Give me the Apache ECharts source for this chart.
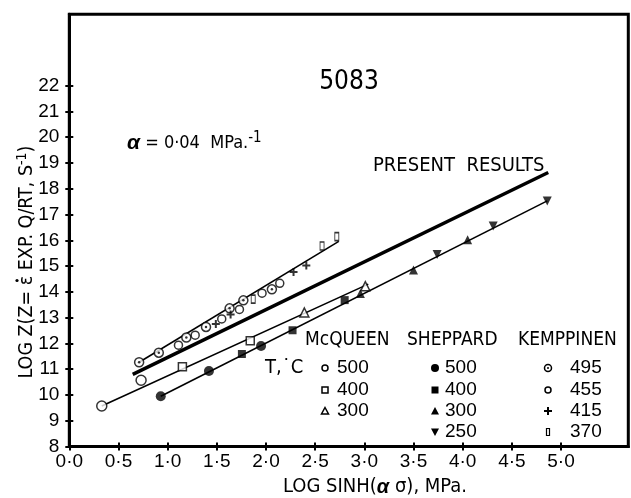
<!DOCTYPE html>
<html>
<head>
<meta charset="utf-8">
<script src="https://cdn.jsdelivr.net/npm/echarts@6/dist/echarts.min.js"></script>
<style>
  html, body { margin: 0; padding: 0; background: #fff; }
  #chart { width: 631px; height: 498px; }
</style>
</head>
<body>
<div id="chart"></div>
<script>
// ---- axis ticks ----
const xTicks = [0, 0.5, 1, 1.5, 2, 2.5, 3, 3.5, 4, 4.5, 5];
const yTicks = [8, 9, 10, 11, 12, 13, 14, 15, 16, 17, 18, 19, 20, 21, 22];

// ---- McQueen (open symbols), [log sinh(ασ), log Z] ----
const mcq500 = [[0.33, 9.57], [0.73, 10.57]];
const mcq400 = [[1.15, 11.09], [1.84, 12.10]];
const mcq300 = [[2.39, 13.20], [3.01, 14.22]];

// ---- Sheppard (filled symbols) ----
const shp500 = [[0.93, 9.95], [1.42, 10.93], [1.95, 11.90]];
const shp400 = [[1.755, 11.59], [2.27, 12.51], [2.80, 13.68]];
const shp300 = [[2.96, 13.94], [3.50, 14.85], [4.05, 16.02]];
const shp250 = [[3.74, 15.45], [4.31, 16.56], [4.86, 17.53]];

// ---- Kemppinen ----
const kem495 = [[0.71, 11.27], [0.91, 11.64], [1.19, 12.23], [1.39, 12.64], [1.63, 13.36], [1.77, 13.67], [2.06, 14.10]];
const kem455 = [[1.11, 11.93], [1.28, 12.32], [1.55, 12.95], [1.73, 13.32], [1.96, 13.95], [2.14, 14.33]];
const kem415 = [[1.49, 12.75], [1.64, 13.12], [2.28, 14.77], [2.41, 15.02]];
const kem370 = [[1.87, 13.72], [2.57, 15.78], [2.72, 16.14]];

// ---- fitted lines ----
const presentLine = [[0.645, 10.80], [4.87, 18.63]];
const mcqLine = [[0.33, 9.57], [3.04, 14.30]];
const shpLine = [[0.93, 9.95], [4.86, 17.53]];
const kemLine = [[0.71, 11.27], [2.74, 15.96]];

const NARROW = "'DejaVu Sans Condensed', 'Liberation Sans', sans-serif";
const DIGIT = "'Liberation Sans', Arial, sans-serif";

const PLUS = 'path://M3,0h2v3h3v2h-3v3h-2v-3h-3v-2h3z';

function lineSeries(data, width) {
  return {
    type: 'line', data: data, symbol: 'none', silent: true, z: 2,
    lineStyle: { color: '#000', width: width }
  };
}
function scatter(data, symbol, size, empty, extra) {
  const s = {
    type: 'scatter', data: data, symbol: symbol, symbolSize: size, z: 5,
    itemStyle: empty
      ? { color: '#fff', borderColor: '#000', borderWidth: 1.5 }
      : { color: '#000', borderWidth: 0 }
  };
  return Object.assign(s, extra || {});
}

// ---- legend block (drawn as graphic elements) ----
function legendMarker(kind, cx, cy) {
  const stroke = { fill: '#fff', stroke: '#000', lineWidth: 1.5 };
  const fill = { fill: '#000' };
  switch (kind) {
    case 'openCircle': return [{ type: 'circle', shape: { cx, cy, r: 3 }, style: stroke }];
    case 'openSquare': return [{ type: 'rect', shape: { x: cx - 3, y: cy - 3, width: 6, height: 6 }, style: stroke }];
    case 'openTri': return [{ type: 'polygon', shape: { points: [[cx, cy - 3.5], [cx + 3.5, cy + 3], [cx - 3.5, cy + 3]] }, style: stroke }];
    case 'fillCircle': return [{ type: 'circle', shape: { cx, cy, r: 4 }, style: fill }];
    case 'fillSquare': return [{ type: 'rect', shape: { x: cx - 3.5, y: cy - 3.5, width: 7, height: 7 }, style: fill }];
    case 'fillTri': return [{ type: 'polygon', shape: { points: [[cx, cy - 4], [cx + 4, cy + 3.5], [cx - 4, cy + 3.5]] }, style: fill }];
    case 'fillTriDown': return [{ type: 'polygon', shape: { points: [[cx, cy + 4], [cx + 4, cy - 3.5], [cx - 4, cy - 3.5]] }, style: fill }];
    case 'dotCircle': return [
      { type: 'circle', shape: { cx, cy, r: 3.5 }, style: stroke },
      { type: 'circle', shape: { cx, cy, r: 1 }, style: fill }];
    case 'smallCircle': return [{ type: 'circle', shape: { cx, cy, r: 3 }, style: stroke }];
    case 'plus': return [
      { type: 'rect', shape: { x: cx - 4, y: cy - 1, width: 8, height: 2 }, style: fill },
      { type: 'rect', shape: { x: cx - 1, y: cy - 4, width: 2, height: 8 }, style: fill }];
    case 'bar': return [{ type: 'rect', shape: { x: cx - 1.5, y: cy - 3.5, width: 3, height: 7 }, style: { fill: '#fff', stroke: '#000', lineWidth: 1.2 } }];
  }
  return [];
}

const legendColumns = [
  { title: 'McQUEEN', titleX: 305, markX: 325, textX: 337,
    rows: [['openCircle', '500'], ['openSquare', '400'], ['openTri', '300']] },
  { title: 'SHEPPARD', titleX: 407, markX: 435, textX: 445,
    rows: [['fillCircle', '500'], ['fillSquare', '400'], ['fillTri', '300'], ['fillTriDown', '250']] },
  { title: 'KEMPPINEN', titleX: 518, markX: 548, textX: 570,
    rows: [['dotCircle', '495'], ['smallCircle', '455'], ['plus', '415'], ['bar', '370']] }
];
const legendRowY = [368, 390, 411, 432];

const graphics = [];
legendColumns.forEach(col => {
  graphics.push({ type: 'text', x: col.titleX, y: 340,
    style: { text: col.title, font: '19px ' + NARROW, fill: '#000', verticalAlign: 'middle' } });
  col.rows.forEach((r, i) => {
    legendMarker(r[0], col.markX, legendRowY[i]).forEach(g => graphics.push(g));
    graphics.push({ type: 'text', x: col.textX, y: legendRowY[i],
      style: { text: r[1], font: '19px ' + DIGIT, fill: '#000', verticalAlign: 'middle' } });
  });
});

// rotated y-axis title; the strain-rate dot above epsilon is placed from measured text widths
const yTitleFont = '19.5px ' + NARROW;
const yTitleSupFont = '14px ' + NARROW;
const yTitleX = 27, yTitleY = 262;
const measureCtx = document.createElement('canvas').getContext('2d');
function textW(str, font) { measureCtx.font = font; return measureCtx.measureText(str).width; }
const yPre = 'LOG Z(Z= ', yEps = 'ε', yPost = ' EXP. Q/RT, S', ySup = '-1', yEnd = ')';
const yTotalW = textW(yPre + yEps + yPost, yTitleFont) + textW(ySup, yTitleSupFont) + textW(yEnd, yTitleFont);
const yEpsOffset = textW(yPre, yTitleFont) + textW(yEps, yTitleFont) / 2;
const yEpsDotY = yTitleY + yTotalW / 2 - yEpsOffset;

// annotations
graphics.push(
  { type: 'text', x: 349, y: 82, style: { text: '5083', font: '26px ' + NARROW, fill: '#000', align: 'center', verticalAlign: 'middle' } },
  { type: 'text', x: 373, y: 166, style: { text: 'PRESENT  RESULTS', font: '20px ' + NARROW, fill: '#000', verticalAlign: 'middle' } },
  { type: 'text', x: 265, y: 368, style: { text: 'T,˙C', font: '20px ' + NARROW, fill: '#000', verticalAlign: 'middle' } },
  { type: 'text', x: 127, y: 143, style: {
      text: '{a|α} = 0·04  MPa.{s|-1}', font: '18px ' + NARROW, fill: '#000', verticalAlign: 'middle',
      rich: {
        a: { font: 'italic bold 21px ' + DIGIT, fill: '#000' },
        s: { font: '15px ' + NARROW, fill: '#000', verticalAlign: 'bottom', padding: [0, 0, 10, 0] }
      } } },
  { type: 'text', x: yTitleX, y: yTitleY, rotation: Math.PI / 2, style: {
      text: yPre + yEps + yPost + '{s|' + ySup + '}' + yEnd, font: yTitleFont, fill: '#000',
      align: 'center', verticalAlign: 'middle',
      rich: { s: { font: yTitleSupFont, fill: '#000', padding: [0, 0, 10, 0] } } } },
  { type: 'circle', shape: { cx: yTitleX - 10, cy: yEpsDotY, r: 1.6 }, style: { fill: '#000' } },
  { type: 'text', x: 375, y: 487, style: {
      text: 'LOG SINH({a|α} σ), MPa.', font: '20px ' + NARROW, fill: '#000',
      align: 'center', verticalAlign: 'middle',
      rich: { a: { font: 'italic bold 20px ' + DIGIT, fill: '#000' } } } }
);

const X_MIN = 0, X_MAX = 5.684, Y_MIN = 8, Y_MAX = 24.77;

function makeX(outer) {
  return {
    type: 'value', min: X_MIN, max: X_MAX, position: 'bottom',
    splitLine: { show: false },
    axisLine: { show: outer, onZero: false, lineStyle: { color: '#000', width: 3 } },
    axisTick: { show: true, inside: !outer, length: 4, customValues: xTicks, lineStyle: { color: '#000', width: 2 } },
    axisLabel: { show: outer, customValues: xTicks, margin: 6, color: '#000', fontSize: 19, fontFamily: DIGIT,
      formatter: v => v.toFixed(1).replace('.', '·') }
  };
}
function makeY(outer) {
  return {
    type: 'value', min: Y_MIN, max: Y_MAX, position: 'left',
    splitLine: { show: false },
    axisLine: { show: outer, onZero: false, lineStyle: { color: '#000', width: 3 } },
    axisTick: { show: true, inside: !outer, length: 4, customValues: yTicks, lineStyle: { color: '#000', width: 2 } },
    axisLabel: { show: outer, customValues: yTicks, margin: 10, color: '#000', fontSize: 19, fontFamily: DIGIT }
  };
}

const chart = echarts.init(document.getElementById('chart'), null, { renderer: 'canvas' });
chart.setOption({
  animation: false,
  backgroundColor: '#fff',
  grid: { left: 69.3, right: 2.7, top: 14.3, bottom: 51.5, show: true, borderColor: '#000', borderWidth: 3, backgroundColor: 'transparent' },
  xAxis: [makeX(true), makeX(false)],
  yAxis: [makeY(true), makeY(false)],
  series: [
    lineSeries(presentLine, 3.5),
    lineSeries(mcqLine, 1.6),
    lineSeries(shpLine, 1.6),
    lineSeries(kemLine, 1.6),
    scatter(mcq500, 'circle', 10, true),
    scatter(mcq400, 'rect', 8, true),
    scatter(mcq300, 'triangle', 9, true),
    scatter(shp500, 'circle', 10, false),
    scatter(shp400, 'rect', 8, false),
    scatter(shp300, 'triangle', 9, false),
    scatter(shp250, 'triangle', 9, false, { symbolRotate: 180 }),
    scatter(kem495, 'circle', 9, true),
    scatter(kem495, 'circle', 2.5, false, { z: 6 }),
    scatter(kem455, 'circle', 8, true),
    scatter(kem415, PLUS, 8, false),
    scatter(kem370, 'rect', [4, 8], true, { itemStyle: { color: '#fff', borderColor: '#000', borderWidth: 1.2 } })
  ],
  graphic: graphics
});
</script>
</body>
</html>
